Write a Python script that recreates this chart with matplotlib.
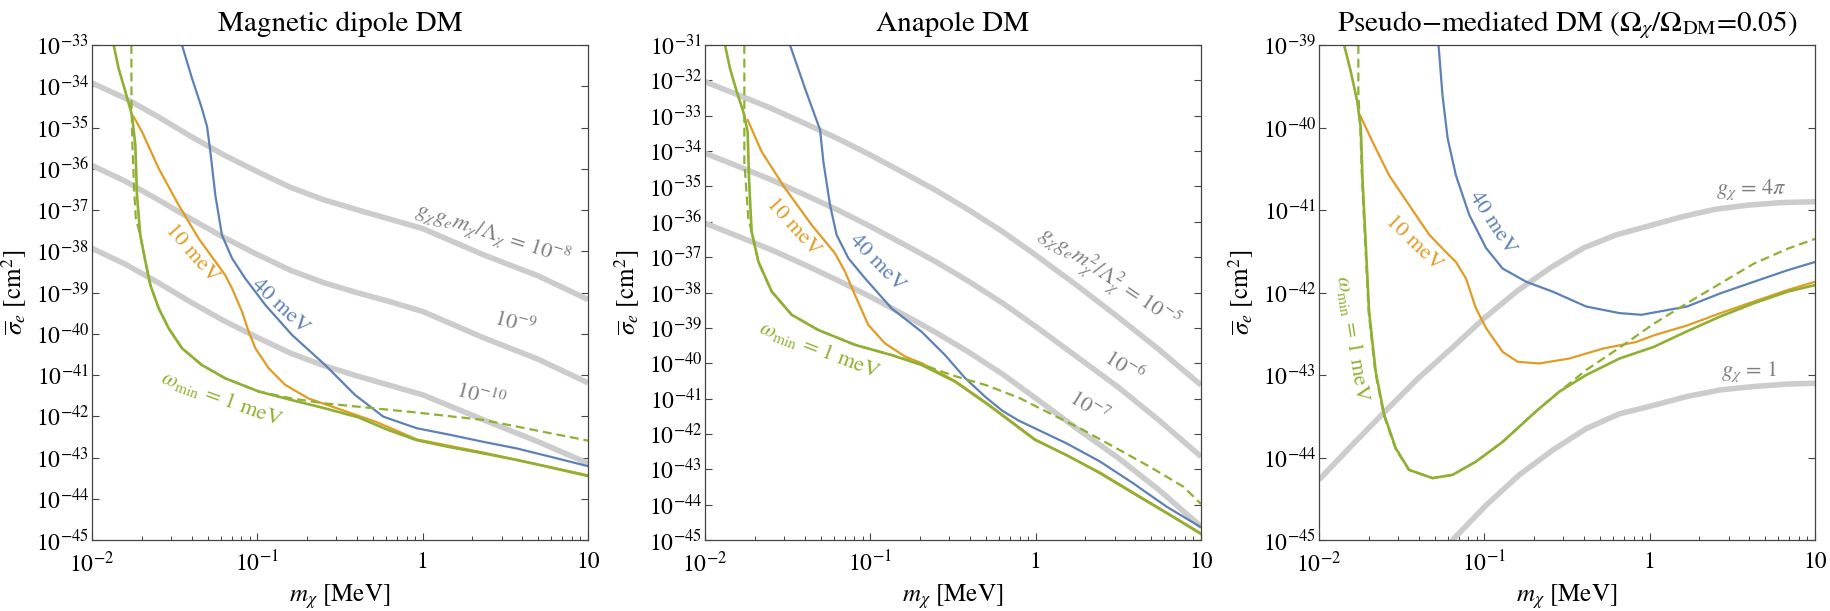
import numpy as np
import matplotlib
matplotlib.use("Agg")
import matplotlib.pyplot as plt

plt.rcParams['font.family'] = ['STIXGeneral', 'DejaVu Serif']
plt.rcParams['mathtext.fontset'] = 'stix'

BLUE = '#5e81b5'
ORANGE = '#e19c24'
GREEN = '#8fb032'
GRAY = '#cccccc'
TXTGRAY = '#7f7f7f'

# ---- data: log10(m / MeV) and log10(sigma / cm^2) ----
# Magnetic dipole DM
md_gray_x = [-2.0, -1.8, -1.6, -1.4, -1.2, -1.0, -0.8, -0.6, -0.4, -0.2, 0.0, 0.37, 0.7, 1.0]
md_gray_8 = [-33.92, -34.29, -34.74, -35.22, -35.67, -36.07, -36.45, -36.75, -36.99, -37.22, -37.45, -38.09, -38.60, -39.17]
md_gray_9 = [-35.92, -36.30, -36.75, -37.22, -37.67, -38.08, -38.46, -38.76, -39.00, -39.22, -39.46, -40.10, -40.62, -41.19]
md_gray_10 = [-37.93, -38.31, -38.76, -39.24, -39.69, -40.09, -40.47, -40.77, -41.02, -41.25, -41.48, -42.09, -42.62, -43.14]

md_green_x = [-1.869, -1.839, -1.798, -1.758, -1.738, -1.728, -1.708, -1.677, -1.647, -1.597, -1.536, -1.456,
              -1.335, -1.194, -0.992, -0.790, -0.589, -0.387, -0.21, -0.036, 0.166, 0.367, 0.569, 0.771, 1.0]
md_green_y = [-33.0, -33.57, -34.13, -34.70, -35.42, -36.64, -37.61, -38.25, -38.82, -39.38, -39.87, -40.35,
              -40.76, -41.08, -41.40, -41.61, -41.81, -42.03, -42.33, -42.58, -42.75, -42.90, -43.06, -43.24, -43.45]
md_dash_x = [-1.762, -1.761, -1.755, -1.745, -1.735, -1.708, -1.677, -1.647, -1.597, -1.536, -1.456, -1.335,
             -1.194, -0.992, -0.79, -0.589, -0.387, -0.036, 0.367, 0.771, 1.0]
md_dash_y = [-33.0, -34.5, -35.5, -36.5, -37.2, -37.61, -38.25, -38.82, -39.38, -39.87, -40.35, -40.76,
             -41.08, -41.40, -41.57, -41.69, -41.77, -41.91, -42.09, -42.41, -42.59]
md_orange_x = [-1.748, -1.698, -1.597, -1.476, -1.355, -1.194, -1.153, -1.093, -1.052, -1.012, -0.931, -0.831,
               -0.690, -0.488, -0.286, -0.036, 0.367, 1.0]
md_orange_y = [-34.74, -35.10, -35.99, -36.88, -37.69, -38.58, -38.90, -39.46, -39.95, -40.35, -40.84, -41.24,
               -41.57, -41.85, -42.13, -42.56, -42.88, -43.43]
md_blue_x = [-1.456, -1.395, -1.335, -1.304, -1.284, -1.254, -1.214, -1.153, -1.073, -0.952, -0.790, -0.589,
             -0.41, -0.238, -0.036, 0.166, 0.367, 0.569, 0.771, 1.0]
md_blue_y = [-33.0, -33.81, -34.54, -34.98, -35.59, -36.64, -37.61, -38.17, -38.66, -39.30, -40.03, -40.76,
             -41.48, -42.01, -42.29, -42.45, -42.62, -42.78, -42.98, -43.21]

# Anapole DM
an_gray_x = [-2.0, -1.8, -1.6, -1.4, -1.2, -1.0, -0.8, -0.6, -0.4, -0.2, 0.0, 0.25, 0.5, 0.75, 1.0]
an_gray_5 = [-32.04, -32.41, -32.79, -33.21, -33.64, -34.11, -34.61, -35.12, -35.68, -36.28, -36.94, -37.80, -38.70, -39.63, -40.62]
an_gray_6 = [-34.06, -34.43, -34.81, -35.23, -35.66, -36.13, -36.63, -37.14, -37.70, -38.30, -38.96, -39.82, -40.68, -41.63, -42.64]
an_gray_7 = [-36.04, -36.41, -36.79, -37.21, -37.65, -38.12, -38.62, -39.14, -39.70, -40.31, -40.99, -41.85, -42.68, -43.60, -44.62]

an_green_x = [-1.879, -1.849, -1.808, -1.768, -1.742, -1.734, -1.718, -1.677, -1.597, -1.476, -1.315, -1.093,
              -0.871, -0.690, -0.488, -0.286, -0.004, 0.188, 0.389, 0.591, 0.793, 1.0]
an_green_y = [-31.0, -31.66, -32.32, -32.89, -33.45, -34.77, -36.28, -37.13, -37.97, -38.63, -39.06, -39.48,
              -39.77, -40.05, -40.52, -41.18, -42.17, -42.60, -43.11, -43.68, -44.24, -44.83]
an_dash_x = [-1.762, -1.762, -1.748, -1.738, -1.718, -1.677, -1.597, -1.476, -1.315, -1.093, -0.871, -0.690,
             -0.5, -0.3, -0.1, 0.087, 0.288, 0.49, 0.691, 0.893, 1.0]
an_dash_y = [-31.0, -34.30, -35.24, -35.90, -36.28, -37.13, -37.97, -38.63, -39.06, -39.48, -39.77, -40.03,
             -40.35, -40.62, -40.98, -41.42, -41.89, -42.41, -42.93, -43.49, -43.98]
an_orange_x = [-1.742, -1.657, -1.516, -1.355, -1.214, -1.153, -1.093, -1.012, -0.911, -0.790, -0.690, -0.488,
               -0.286, -0.004, 0.389, 1.0]
an_orange_y = [-33.12, -34.02, -35.05, -36.09, -36.89, -37.41, -38.07, -38.92, -39.44, -39.81, -40.0, -40.50,
               -41.16, -42.15, -43.09, -44.81]
an_blue_x = [-1.486, -1.395, -1.304, -1.284, -1.244, -1.204, -1.133, -1.032, -0.871, -0.690, -0.548, -0.427,
             -0.3, -0.2, -0.1, 0.0, 0.188, 0.389, 0.591, 0.793, 1.0]
an_blue_y = [-31.0, -32.23, -33.40, -34.30, -35.52, -36.37, -37.03, -37.60, -38.45, -39.11, -39.77, -40.42,
             -40.97, -41.35, -41.63, -41.85, -42.27, -42.78, -43.40, -44.06, -44.64]

# Pseudo-mediated DM
ps_gray_x = [-2.0, -1.8, -1.6, -1.4, -1.2, -1.0, -0.8, -0.6, -0.4, -0.2, 0.0, 0.2, 0.4, 0.6, 0.8, 1.0]
ps_gray_4pi = [-44.27, -43.85, -43.44, -43.04, -42.68, -42.31, -41.98, -41.70, -41.46, -41.30, -41.19, -41.08,
               -40.99, -40.94, -40.91, -40.90]
ps_g1_x = [-1.3, -1.192, -0.99, -0.788, -0.586, -0.384, -0.182, 0.0, 0.226, 0.43, 0.63, 0.83, 1.0]
ps_g1_y = [-45.3, -45.0, -44.58, -44.21, -43.91, -43.65, -43.47, -43.38, -43.26, -43.18, -43.14, -43.11, -43.10]

ps_green_x = [-1.848, -1.808, -1.768, -1.747, -1.737, -1.717, -1.697, -1.657, -1.606, -1.535, -1.455, -1.313,
              -1.192, -1.051, -0.889, -0.687, -0.545, -0.384, -0.182, 0.024, 0.226, 0.428, 0.630, 0.834, 1.0]
ps_green_y = [-39.0, -39.32, -39.69, -40.01, -40.62, -41.42, -42.23, -42.96, -43.48, -43.89, -44.15, -44.25,
              -44.21, -44.05, -43.81, -43.44, -43.20, -43.0, -42.80, -42.66, -42.47, -42.29, -42.13, -41.99, -41.91]
ps_dash_x = [-1.762, -1.762, -1.750, -1.740, -1.720, -1.700, -1.660, -1.609, -1.538, -1.457, -1.313, -1.192,
             -1.051, -0.889, -0.687, -0.545, -0.384, -0.176, 0.024, 0.226, 0.428, 0.630, 0.834, 1.0]
ps_dash_y = [-39.0, -39.6, -40.01, -40.62, -41.42, -42.23, -42.96, -43.48, -43.89, -44.15, -44.25, -44.21,
             -44.05, -43.81, -43.44, -43.20, -42.94, -42.66, -42.38, -42.13, -41.89, -41.65, -41.47, -41.35]
ps_orange_x = [-1.747, -1.677, -1.576, -1.455, -1.333, -1.232, -1.172, -1.111, -1.051, -0.990, -0.889, -0.798,
               -0.667, -0.485, -0.283, -0.081, 0.024, 0.226, 0.428, 0.630, 0.834, 1.0]
ps_orange_y = [-39.87, -40.17, -40.58, -40.94, -41.30, -41.51, -41.63, -41.83, -42.19, -42.43, -42.72, -42.84,
               -42.86, -42.80, -42.68, -42.60, -42.52, -42.40, -42.25, -42.11, -41.97, -41.87]
ps_blue_x = [-1.277, -1.253, -1.222, -1.172, -1.091, -0.990, -0.889, -0.747, -0.586, -0.384, -0.182, -0.05,
             0.226, 0.428, 0.630, 0.834, 1.0]
ps_blue_y = [-39.0, -39.61, -40.13, -40.58, -41.06, -41.46, -41.71, -41.87, -41.99, -42.17, -42.25, -42.27,
             -42.17, -42.01, -41.87, -41.73, -41.63]

titles = ['Magnetic dipole DM', 'Anapole DM',
          r'Pseudo$-$mediated DM ($\Omega_\chi/\Omega_{\rm DM}$=0.05)']
ylims = [(-45, -33), (-45, -31), (-45, -39)]
xticklabels = [r'$10^{-2}$', r'$10^{-1}$', '1', '10']


def p(v):
    return 10.0 ** np.asarray(v)


fig = plt.figure(figsize=(18.3, 6.11), dpi=100)
lefts = [92, 705, 1319]
axes = []
for l in lefts:
    axes.append(fig.add_axes([l / 1830, 71 / 611, 496 / 1830, 495 / 611]))

for ax, title, (y0, y1) in zip(axes, titles, ylims):
    ax.set_xscale('log')
    ax.set_yscale('log')
    ax.set_xlim(1e-2, 10)
    ax.set_ylim(10.0 ** y0, 10.0 ** y1)
    ax.set_xticks([1e-2, 1e-1, 1, 10])
    ax.set_xticklabels(xticklabels)
    ax.set_xticks([k * 10.0 ** e for e in (-2, -1, 0) for k in range(2, 10)], minor=True)
    ax.set_xticklabels([], minor=True)
    ks = list(range(y0, y1 + 1))
    ax.set_yticks([10.0 ** k for k in ks])
    ax.set_yticklabels([rf'$10^{{{k}}}$' for k in ks])
    ax.set_yticks([], minor=True)
    ax.tick_params(which='major', direction='in', length=5, width=0.8, color='#444444',
                   labelsize=17, left=True, right=True, top=False, bottom=True)
    ax.tick_params(axis='y', pad=2)
    ax.tick_params(axis='x', pad=8)
    ax.tick_params(which='minor', direction='in', length=3, width=0.7, color='#444444',
                   top=False, bottom=True)
    for s in ax.spines.values():
        s.set_color('#444444')
        s.set_linewidth(0.9)
    ax.set_title(title, fontsize=21, pad=10)
    ax.set_xlabel(r'$m_\chi$ [MeV]', fontsize=18)
    ax.set_ylabel(r'$\overline{\sigma}_e$ [cm$^2$]', fontsize=18)
    ax.xaxis.set_label_coords(0.5, -0.085)
    ax.yaxis.set_label_coords(-0.128, 0.5)

glw = 4.0
clw = 1.6

ax = axes[0]
for gy in (md_gray_8, md_gray_9, md_gray_10):
    ax.plot(p(md_gray_x), p(gy), color=GRAY, lw=glw, solid_capstyle='butt')
ax.plot(p(md_blue_x), p(md_blue_y), color=BLUE, lw=clw)
ax.plot(p(md_orange_x), p(md_orange_y), color=ORANGE, lw=clw)
ax.plot(p(md_dash_x), p(md_dash_y), color=GREEN, lw=clw, ls=(0, (4, 2.2)))
ax.plot(p(md_green_x), p(md_green_y), color=GREEN, lw=1.9)
ax.text(p(0.423), p(-37.58), r'$g_\chi g_e m_\chi/\Lambda_\chi$ = $10^{-8}$', color=TXTGRAY,
        fontsize=16, rotation=-18, ha='center', va='center')
ax.text(p(0.555), p(-39.75), r'$10^{-9}$', color=TXTGRAY, fontsize=16, rotation=-15, ha='center', va='center')
ax.text(p(0.35), p(-41.53), r'$10^{-10}$', color=TXTGRAY, fontsize=16, rotation=-15, ha='center', va='center')
ax.text(p(-1.395), p(-38.05), '10 meV', color=ORANGE, fontsize=16, rotation=-49, ha='center', va='center')
ax.text(p(-0.861), p(-39.34), '40 meV', color=BLUE, fontsize=16, rotation=-43, ha='center', va='center')
ax.text(p(-1.214), p(-41.57), r'$\omega_{\rm min}$ = 1 meV', color=GREEN, fontsize=16, rotation=-20,
        ha='center', va='center')

ax = axes[1]
for gy in (an_gray_5, an_gray_6, an_gray_7):
    ax.plot(p(an_gray_x), p(gy), color=GRAY, lw=glw, solid_capstyle='butt')
ax.plot(p(an_blue_x), p(an_blue_y), color=BLUE, lw=clw)
ax.plot(p(an_orange_x), p(an_orange_y), color=ORANGE, lw=clw)
ax.plot(p(an_dash_x), p(an_dash_y), color=GREEN, lw=clw, ls=(0, (4, 2.2)))
ax.plot(p(an_green_x), p(an_green_y), color=GREEN, lw=1.9)
ax.text(p(0.44), p(-37.60), r'$g_\chi g_e m_\chi^2/\Lambda_\chi^2$ = $10^{-5}$', color=TXTGRAY,
        fontsize=16, rotation=-34, ha='center', va='center')
ax.text(p(0.531), p(-40.10), r'$10^{-6}$', color=TXTGRAY, fontsize=16, rotation=-32, ha='center', va='center')
ax.text(p(0.319), p(-41.23), r'$10^{-7}$', color=TXTGRAY, fontsize=16, rotation=-32, ha='center', va='center')
ax.text(p(-1.466), p(-36.14), '10 meV', color=ORANGE, fontsize=16, rotation=-48, ha='center', va='center')
ax.text(p(-0.962), p(-37.17), '40 meV', color=BLUE, fontsize=16, rotation=-46, ha='center', va='center')
ax.text(p(-1.304), p(-39.62), r'$\omega_{\rm min}$ = 1 meV', color=GREEN, fontsize=16, rotation=-21,
        ha='center', va='center')

ax = axes[2]
ax.plot(p(ps_gray_x), p(ps_gray_4pi), color=GRAY, lw=glw, solid_capstyle='butt')
ax.plot(p(ps_g1_x), p(ps_g1_y), color=GRAY, lw=glw, solid_capstyle='butt')
ax.plot(p(ps_blue_x), p(ps_blue_y), color=BLUE, lw=clw)
ax.plot(p(ps_orange_x), p(ps_orange_y), color=ORANGE, lw=clw)
ax.plot(p(ps_dash_x), p(ps_dash_y), color=GREEN, lw=clw, ls=(0, (4, 2.2)))
ax.plot(p(ps_green_x), p(ps_green_y), color=GREEN, lw=1.9)
ax.text(p(0.612), p(-40.76), r'$g_\chi$ = 4$\pi$', color=TXTGRAY, fontsize=16, ha='center', va='center')
ax.text(p(0.60), p(-42.96), r'$g_\chi$ = 1', color=TXTGRAY, fontsize=16, ha='center', va='center')
ax.text(p(-0.950), p(-41.16), '40 meV', color=BLUE, fontsize=16, rotation=-57, ha='center', va='center')
ax.text(p(-1.424), p(-41.40), '10 meV', color=ORANGE, fontsize=16, rotation=-44, ha='center', va='center')
ax.text(p(-1.798), p(-42.56), r'$\omega_{\rm min}$ = 1 meV', color=GREEN, fontsize=16, rotation=-81,
        ha='center', va='center')

fig.savefig('out.png', dpi=100)
